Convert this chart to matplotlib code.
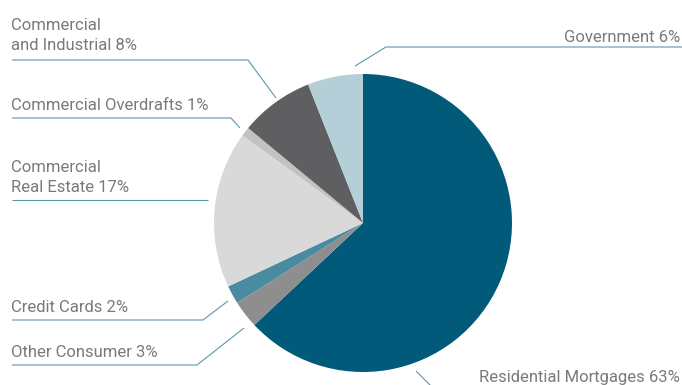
import matplotlib
matplotlib.use("Agg")
import matplotlib.pyplot as plt

# Loan portfolio composition, drawn clockwise from 12 o'clock
categories = ["Residential Mortgages", "Other Consumer", "Credit Cards",
              "Commercial\nReal Estate", "Commercial Overdrafts",
              "Commercial\nand Industrial", "Government"]
shares = [63, 3, 2, 17, 1, 8, 6]
colors = ["#015a7a", "#8e8e8f", "#4b8ba1", "#d9d9d9", "#c2c2c2", "#5f5f62", "#b5cfd9"]

W, H = 682, 385
fig = plt.figure(figsize=(W / 100, H / 100), dpi=100)
ax = fig.add_axes([0, 0, 1, 1])

cx, cy, r = 363, H - 223, 149
ax.pie(shares, colors=colors, startangle=90, counterclock=False,
       center=(cx, cy), radius=r, wedgeprops=dict(linewidth=0),
       frame=True)
ax.set_xlim(0, W)
ax.set_ylim(0, H)
ax.set_aspect("equal")
ax.axis("off")

txt = dict(color="#7a7a7a", fontsize=12, family=["Roboto", "DejaVu Sans"])
line = dict(color="#5b97ad", lw=0.8, solid_capstyle="butt")

def label(i, x, y, ha="left"):
    ax.text(x, H - y, f"{categories[i]} {shares[i]}%", ha=ha, va="baseline",
            linespacing=1.45, **txt)

def leader(pts):
    ax.plot([p[0] for p in pts], [H - p[1] for p in pts], **line)

# Labels and leader lines (positions in pixel units, y measured from top)
label(5, 11, 50)
leader([(12, 60), (248, 60), (276, 98)])

label(4, 11, 110)
leader([(12, 118), (231, 118), (240, 128)])

label(3, 11, 192)
leader([(12, 200), (208, 200)])

label(2, 11, 312)
leader([(12, 320), (203, 320), (228, 301)])

label(1, 11, 357)
leader([(12, 365), (197, 365), (244, 328)])

label(6, 680, 42, ha="right")
leader([(355, 66), (386, 47), (682, 47)])

label(0, 680, 382, ha="right")
leader([(416, 371), (431, 386)])

fig.savefig("out.png", dpi=100)
